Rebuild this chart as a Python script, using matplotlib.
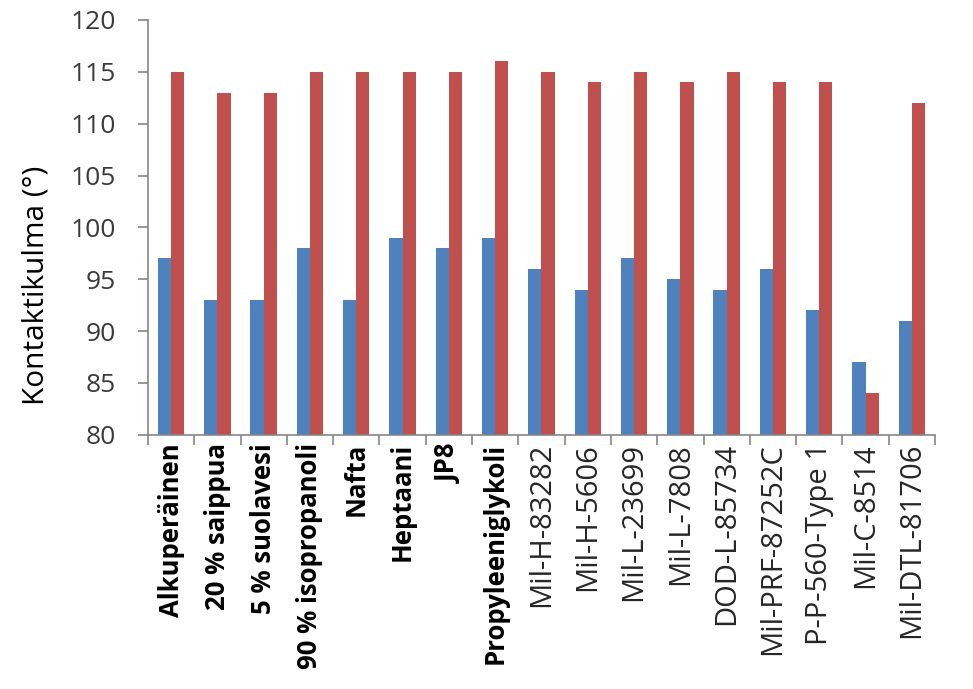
import numpy as np
import matplotlib.pyplot as plt

kategoriat = ['Alkuperäinen', '20 % saippua', '5 % suolavesi', '90 % isopropanoli',
              'Nafta', 'Heptaani', 'JP8', 'Propyleeniglykoli',
              'Mil-H-83282', 'Mil-H-5606', 'Mil-L-23699', 'Mil-L-7808',
              'DOD-L-85734', 'Mil-PRF-87252C', 'P-P-560-Type 1', 'Mil-C-8514',
              'Mil-DTL-81706']
sarja1 = [97, 93, 93, 98, 93, 99, 98, 99, 96, 94, 97, 95, 94, 96, 92, 87, 91]
sarja2 = [115, 113, 113, 115, 115, 115, 115, 116, 115, 114, 115, 114, 115, 114, 114, 84, 112]
lihavoidut = 8  # ensimmäiset 8 nimeä lihavoituna

plt.rcParams['font.family'] = ['Open Sans', 'DejaVu Sans']

fig = plt.figure(figsize=(9.73, 6.89), dpi=100)
ax = fig.add_axes([0.152, 0.369, 0.809, 0.602])

x = np.arange(len(kategoriat))
w = 0.285
ax.bar(x - w/2, np.array(sarja1) - 80, w, bottom=80, color='#4F81BD')
ax.bar(x + w/2, np.array(sarja2) - 80, w, bottom=80, color='#C0504D')

ax.set_xlim(-0.5, len(kategoriat) - 0.5)
ax.set_ylim(80, 120)
ax.set_yticks(np.arange(80, 121, 5))
ax.tick_params(axis='y', labelsize=19, colors='#868686', labelcolor='#3a3a3a',
               length=7, width=1.2, pad=16)
ax.set_xticks(x)
ax.set_xticklabels(kategoriat, rotation=90)
ax.tick_params(axis='x', length=0, pad=6)
ax.set_xticks(np.arange(-0.5, len(kategoriat)), minor=True)
ax.tick_params(axis='x', which='minor', length=7, width=1.2, color='#868686')
for i, t in enumerate(ax.get_xticklabels()):
    if i < lihavoidut:
        t.set_fontweight('bold')
        t.set_fontsize(18.5)
    else:
        t.set_fontsize(21)
        t.set_color('#262626')

for s in ['top', 'right']:
    ax.spines[s].set_visible(False)
for s in ['left', 'bottom']:
    ax.spines[s].set_color('#868686')
    ax.spines[s].set_linewidth(1.2)

ax.set_ylabel('Kontaktikulma (°)', fontsize=21.5)
ax.yaxis.set_label_coords(-0.124, 0.36)

fig.savefig('out.png', dpi=100)
